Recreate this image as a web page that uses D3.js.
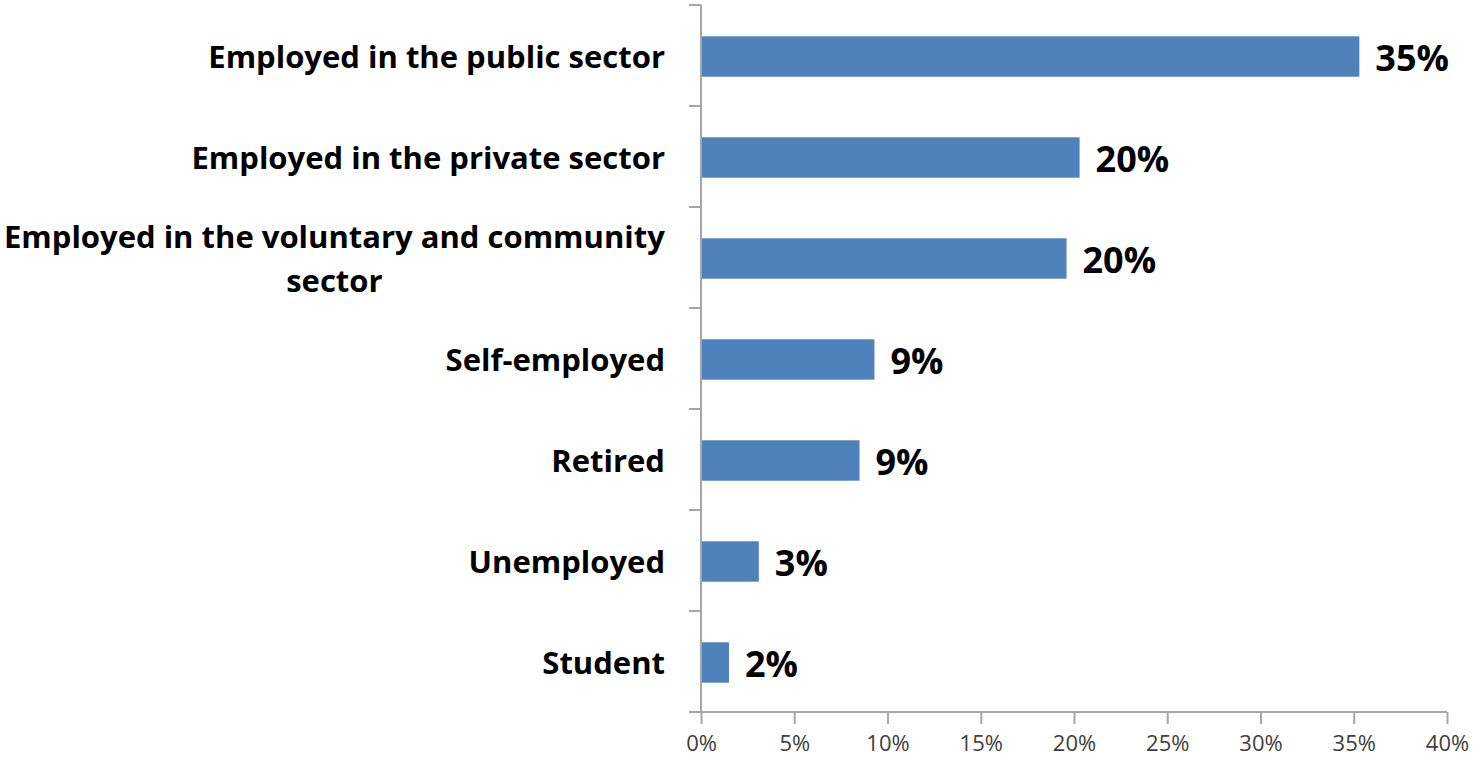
<!DOCTYPE html>
<html>
<head>
<meta charset="utf-8">
<script src="https://cdn.jsdelivr.net/npm/d3@7"></script>
<style>
  html, body { margin: 0; padding: 0; background: #fff; }
  svg { display: block; }
</style>
</head>
<body>
<svg id="chart" width="1475" height="760"></svg>
<script>
// Employment status of respondents (share of all respondents, %)
const categories = [
  ["Employed in the public sector"],
  ["Employed in the private sector"],
  ["Employed in the voluntary and community", "sector"],
  ["Self-employed"],
  ["Retired"],
  ["Unemployed"],
  ["Student"]
];
const values = [35.3, 20.3, 19.6, 9.3, 8.5, 3.1, 1.5];
const xTicks = [0, 5, 10, 15, 20, 25, 30, 35, 40];

const svg = d3.select("#chart");
const margin = { left: 701, right: 28, top: 5, bottom: 48 };
const W = 1475, H = 760;

const x = d3.scaleLinear().domain([0, 40]).range([margin.left, W - margin.right]);
const y = d3.scaleBand()
  .domain(d3.range(categories.length))
  .range([margin.top, H - margin.bottom])
  .paddingInner(0.6).paddingOuter(0.3);

const axisColor = "#a6a6a6";
const font = "'Open Sans', Lato, sans-serif";

// Bars
svg.append("g").selectAll("rect")
  .data(values)
  .join("rect")
  .attr("x", x(0))
  .attr("y", (d, i) => y(i) + 1)
  .attr("width", d => x(d) - x(0))
  .attr("height", y.bandwidth())
  .attr("fill", "#4f81bd");

// Y axis (category axis) with ticks between categories
const yAxisG = svg.append("g");
yAxisG.append("line")
  .attr("x1", x(0)).attr("x2", x(0))
  .attr("y1", margin.top).attr("y2", H - margin.bottom)
  .attr("stroke", axisColor).attr("stroke-width", 2);
yAxisG.selectAll("line.tick")
  .data(d3.range(categories.length + 1))
  .join("line")
  .attr("class", "tick")
  .attr("x1", x(0) - 12).attr("x2", x(0))
  .attr("y1", i => margin.top + i * (H - margin.bottom - margin.top) / categories.length)
  .attr("y2", i => margin.top + i * (H - margin.bottom - margin.top) / categories.length)
  .attr("stroke", axisColor).attr("stroke-width", 2);

// X axis
const xAxis = d3.axisBottom(x)
  .tickValues(xTicks)
  .tickFormat(d => d + "%")
  .tickSize(12)
  .tickPadding(11);
const xg = svg.append("g")
  .attr("transform", `translate(0,${H - margin.bottom})`)
  .call(xAxis);
xg.select(".domain").attr("stroke", axisColor).attr("stroke-width", 2)
  .attr("d", `M${x(0)},0H${x(40)}`);
xg.selectAll(".tick line").attr("stroke", axisColor).attr("stroke-width", 2);
xg.selectAll(".tick text")
  .attr("fill", "#404040")
  .style("font-family", font)
  .style("font-size", "22px");

// Category labels
const lab = svg.append("g").selectAll("text")
  .data(categories)
  .join("text")
  .attr("text-anchor", "middle")
  .attr("fill", "#000")
  .style("font-family", font)
  .style("font-weight", "bold")
  .style("font-size", "31px");
lab.each(function (lines, i) {
  const t = d3.select(this);
  const cy = y(i) + y.bandwidth() / 2 + 2;
  const lh = 44;
  const y0 = cy - (lines.length - 1) * lh / 2;
  lines.forEach((ln, k) => {
    t.append("tspan")
      .attr("x", 0)
      .attr("y", y0 + k * lh)
      .attr("dy", "0.35em")
      .text(ln);
  });
});
// right-align each label block while centring its lines within it
lab.each(function () {
  const t = d3.select(this);
  const bb = this.getBBox();
  const cx = 665 - bb.width / 2;
  t.selectAll("tspan").attr("x", cx);
});

// Value labels
svg.append("g").selectAll("text")
  .data(values)
  .join("text")
  .attr("x", d => x(d) + 16)
  .attr("y", (d, i) => y(i) + y.bandwidth() / 2 + 3)
  .attr("dy", "0.36em")
  .attr("fill", "#000")
  .style("font-family", font)
  .style("font-weight", "bold")
  .style("font-size", "36px")
  .text(d => Math.round(d) + "%");
</script>
</body>
</html>
